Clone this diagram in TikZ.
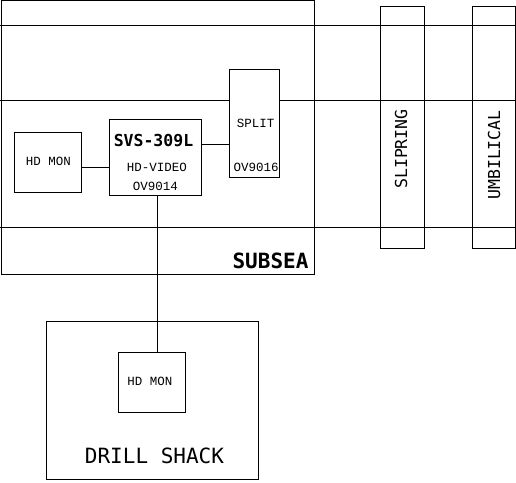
\documentclass[tikz,border=0pt]{standalone}
\usepackage{fontspec}
\setmonofont{Liberation Mono}
\newfontfamily\dvmono{DejaVu Sans Mono}
\begin{document}
\begin{tikzpicture}[x=1pt,y=-1pt,line width=1pt,
  box/.style={draw,rectangle,inner sep=0pt,outer sep=0pt},
  wbox/.style={box,fill=white},
  lbl/.style={inner sep=0pt,font=\ttfamily\fontsize{12.5}{12.5}\selectfont},
  midlbl/.style={inner sep=0pt,font=\dvmono\fontsize{16.5}{16.5}\selectfont},
  biglbl/.style={inner sep=0pt,font=\dvmono\bfseries\fontsize{21}{21}\selectfont},
  tallbl/.style={inner sep=0pt,font=\dvmono\bfseries\fontsize{16.5}{16.5}\selectfont}]
\useasboundingbox (0,0) rectangle (516,482);
% rails
\coordinate (l1a) at (0,25);  \coordinate (l1b) at (516,25);
\coordinate (l2a) at (0,100); \coordinate (l2b) at (516,100);
\coordinate (l3a) at (0,227); \coordinate (l3b) at (516,227);
\node[box,minimum width=313pt,minimum height=274pt] (subsea) at (157.5,137) {};
\draw (l1a) -- (l1b);
\draw (l2a) -- (l2b);
\draw (l3a) -- (l3b);
\node[box,minimum width=44pt,minimum height=242pt] (slipring) at (402,127) {};
\node[box,minimum width=43pt,minimum height=242pt] (umbilical) at (493.5,127) {};
\node[midlbl,rotate=90] (tslip) at (401,149) {SLIPRING};
\node[midlbl,rotate=90] (tumb) at (494,155) {UMBILICAL};
% subsea equipment
\node[wbox,minimum width=67pt,minimum height=60pt] (hdmon1) at (47.5,162) {};
\node[wbox,minimum width=92pt,minimum height=76pt] (svs) at (155,157) {};
\node[wbox,minimum width=50pt,minimum height=108pt] (split) at (254,123) {};
\node[lbl] (thd1) at (48.5,161) {HD MON};
\node[tallbl] (tsvs) at (153.5,141) {SVS-309L};
\node[lbl] (thdv) at (157,167) {HD-VIDEO};
\node[lbl] (tov14) at (155.5,186) {OV9014};
\node[lbl] (tsplit) at (255.5,123) {SPLIT};
\node[lbl] (tov16) at (256,167) {OV9016};
\node[biglbl] (tsub) at (270.5,261) {SUBSEA};
% drill shack
\node[box,minimum width=212pt,minimum height=158pt] (drill) at (152,400) {};
\node[wbox,minimum width=67pt,minimum height=60pt] (hdmon2) at (151.5,382) {};
\node[lbl] (thd2) at (150,381) {HD MON};
\node[inner sep=0pt,font=\dvmono\fontsize{21}{21}\selectfont] (tdrill) at (154.5,456) {DRILL SHACK};
% connectors
\draw (hdmon1.east |- 0,167) -- (svs.west |- 0,167);
\draw (svs.east |- 0,144) -- (split.west |- 0,144);
\draw (svs.south -| 157,0) -- (hdmon2.north -| 157,0);
\end{tikzpicture}
\end{document}
